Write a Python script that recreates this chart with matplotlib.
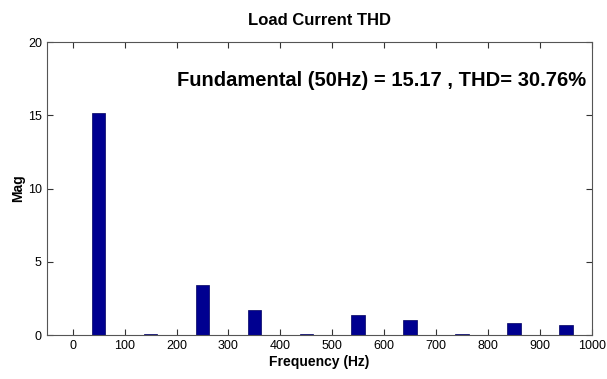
import matplotlib.pyplot as plt

# harmonic spectrum of load current
freqs = [50, 150, 250, 350, 450, 550, 650, 750, 850, 950]
mags = [15.17, 0.05, 3.4, 1.7, 0.05, 1.35, 1.0, 0.05, 0.84, 0.68]
xticks = [0, 100, 200, 300, 400, 500, 600, 700, 800, 900, 1000]
yticks = [0, 5, 10, 15, 20]

plt.rcParams['font.family'] = ['Liberation Sans', 'DejaVu Sans']

fig = plt.figure(figsize=(6.07, 3.79), dpi=100)
ax = fig.add_axes([0.077, 0.116, 0.898, 0.773])

ax.bar(freqs, mags, width=26, color='#000090', edgecolor='#000060', linewidth=0.5)
ax.set_xlim(-50, 1000)
ax.set_ylim(0, 20)
ax.set_xticks(xticks)
ax.set_yticks(yticks)
ax.tick_params(direction='in', top=True, right=True, labelsize=9, length=4, width=0.8, colors='#333333', labelcolor='black')
for s in ax.spines.values():
    s.set_color('#555555')
    s.set_linewidth(0.8)

ax.set_title("Load Current THD", fontsize=12, fontweight='bold', pad=12)
ax.set_xlabel("Frequency (Hz)", fontsize=10, fontweight='bold', labelpad=2)
ax.set_ylabel("Mag", fontsize=10, fontweight='bold', labelpad=2)
ax.text(0.99, 0.87, "Fundamental (50Hz) = 15.17 , THD= 30.76%", transform=ax.transAxes,
        ha='right', va='center', fontsize=14.5, fontweight='bold')

plt.savefig("out.png", dpi=100)
